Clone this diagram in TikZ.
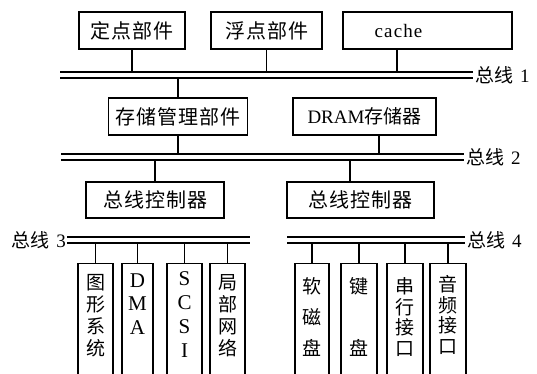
\documentclass[tikz,border=0pt]{standalone}
\usepackage{fontspec}
\setmainfont{Liberation Serif}
\newfontfamily\cjk[LetterSpace=5]{Noto Sans CJK SC}
\newfontfamily\cjkv{Noto Sans CJK SC}
\newfontfamily\lat[LetterSpace=6]{Liberation Serif}
\newcommand{\vcol}[3]{\parbox[t][127pt][t]{30pt}{\centering\fontsize{19}{#1}\selectfont\vspace*{#2}#3\par}}
\newcommand{\busname}[1]{{\cjkv 总线}\hspace{7pt}{\rmfamily #1}}
\begin{document}
\begin{tikzpicture}[x=1pt,y=-1pt,
  box/.style={draw, line width=1.3pt, inner sep=0pt, minimum height=37pt, font=\fontsize{20}{22}\selectfont},
  vbox/.style={draw, line width=1.3pt, inner sep=0pt, anchor=north},
  conn/.style={line width=1.2pt},
  busline/.style={line width=1.1pt},
  buslabel/.style={inner sep=1pt, font=\fontsize{19}{21}\selectfont}]
\useasboundingbox (0,0) rectangle (537,373);

% top boxes
\node[box, minimum width=106pt] (fix) at (132,30.5) {\cjk 定点部件};
\node[box, minimum width=111pt] (flt) at (266.5,30.5) {\cjk 浮点部件};
\node[box, minimum width=169pt] (cache) at (427.5,30.5) {\fontsize{19}{21}\selectfont\lat cache\hspace*{58pt}};

% bus 1
\coordinate (b1a) at (60,72);
\coordinate (b1b) at (60,78);
\draw[busline] (b1a) -- (473,72);
\draw[busline] (b1b) -- (473,78);
\node[buslabel, anchor=west] (l1) at (474,75) {\busname{1}};

\node[box, minimum width=139pt] (mmu) at (178,116.5) {\cjk 存储管理部件};
\node[box, minimum width=143pt] (dram) at (364.5,116.5) {\fontsize{19}{21}\selectfont DRAM{\cjkv 存储器}};

% bus 2
\coordinate (b2a) at (61,154);
\coordinate (b2b) at (61,160);
\draw[busline] (b2a) -- (464,154);
\draw[busline] (b2b) -- (464,160);
\node[buslabel, anchor=west] (l2) at (465,157) {\busname{2}};

\node[box, minimum width=138pt, minimum height=36pt] (ctl1) at (155,200) {\cjk 总线控制器};
\node[box, minimum width=147pt, minimum height=36pt] (ctl2) at (360.5,200) {\cjk 总线控制器};

% bus 3 and 4
\coordinate (b3a) at (67,237);
\coordinate (b3b) at (67,243);
\draw[busline] (b3a) -- (250,237);
\draw[busline] (b3b) -- (250,243);
\node[buslabel, anchor=east] (l3) at (67,240) {\busname{3}};
\coordinate (b4a) at (287,237);
\coordinate (b4b) at (287,243);
\draw[busline] (b4a) -- (465,237);
\draw[busline] (b4b) -- (465,243);
\node[buslabel, anchor=west] (l4) at (466,240) {\busname{4}};

% vertical boxes
\node[vbox, minimum width=35pt] (gfx) at (95.5,263) {\vcol{22}{11pt}{\cjkv 图\\形\\系\\统}};
\node[vbox, minimum width=31pt] (dma) at (137.5,263) {\vcol{23.5}{10pt}{\fontsize{21}{23.5}\selectfont D\\M\\A}};
\node[vbox, minimum width=35pt] (scsi) at (184.5,263) {\vcol{24}{8pt}{\fontsize{21}{24}\selectfont S\\C\\S\\I}};
\node[vbox, minimum width=35pt] (lan) at (227.5,263) {\vcol{22}{11pt}{\cjkv 局\\部\\网\\络}};
\node[vbox, minimum width=34pt] (fd) at (312,263) {\vcol{31}{14pt}{\cjkv 软\\磁\\盘}};
\node[vbox, minimum width=36pt] (kb) at (359,263) {\vcol{31}{14pt}{\cjkv 键\\\mbox{}\\盘}};
\node[vbox, minimum width=36pt] (ser) at (405,263) {\vcol{20.5}{14pt}{\cjkv 串\\行\\接\\口}};
\node[vbox, minimum width=36pt] (aud) at (448,263) {\vcol{20.5}{12pt}{\cjkv 音\\频\\接\\口}};

% connectors
\draw[conn] (fix.south) -- (fix.south |- b1a);
\draw[conn] (flt.south) -- (flt.south |- b1a);
\draw[conn] ([xshift=-30.5pt]cache.south) -- ([xshift=-30.5pt]cache.south |- b1a);
\draw[conn] (mmu.north |- b1b) -- (mmu.north);
\draw[conn] (mmu.south) -- (mmu.south |- b2a);
\draw[conn] ([xshift=14.5pt]dram.south) -- ([xshift=14.5pt]dram.south |- b2a);
\draw[conn] (ctl1.north |- b2b) -- (ctl1.north);
\draw[conn] ([xshift=-10.5pt]ctl2.north |- b2b) -- ([xshift=-10.5pt]ctl2.north);
\foreach \n in {gfx,dma,scsi,lan}{\draw[conn] (\n.north |- b3b) -- (\n.north);}
\foreach \n in {fd,kb,ser,aud}{\draw[conn] (\n.north |- b4b) -- (\n.north);}
\end{tikzpicture}
\end{document}
